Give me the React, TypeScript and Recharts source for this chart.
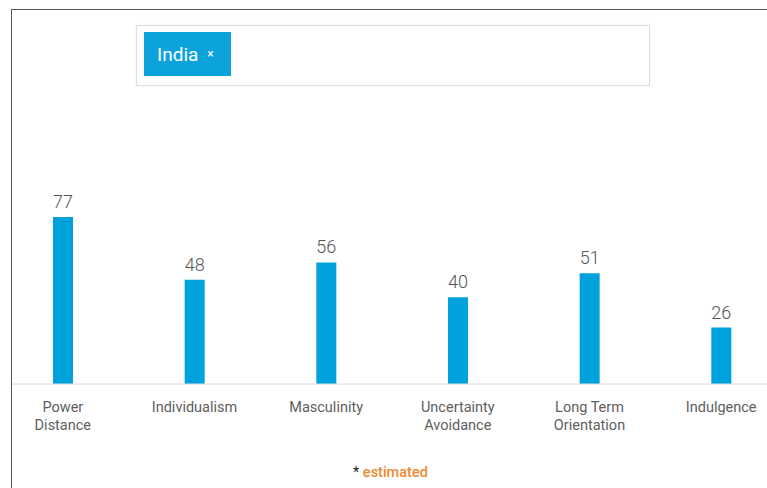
import React from "react";
import { BarChart, Bar, XAxis, YAxis, LabelList } from "recharts";

const categories = [
  "Power Distance",
  "Individualism",
  "Masculinity",
  "Uncertainty Avoidance",
  "Long Term Orientation",
  "Indulgence",
];
const tickLines = [
  ["Power", "Distance"],
  ["Individualism"],
  ["Masculinity"],
  ["Uncertainty", "Avoidance"],
  ["Long Term", "Orientation"],
  ["Indulgence"],
];
const scores = [77, 48, 56, 40, 51, 26];
const countryTag = "India";
const noteStar = "*";
const noteText = "estimated";

const data = categories.map((name, i) => ({ name, score: scores[i] }));

const FONT = "Roboto, 'Noto Sans', sans-serif";

const Tick = (props: any) => {
  const { x, y, index } = props;
  const lines = tickLines[index] || [];
  return (
    <text x={x} y={y} textAnchor="middle" fill="#5e5e5e" fontSize={14.5} fontFamily={FONT}>
      {lines.map((l, i) => (
        <tspan key={i} x={x} dy={i === 0 ? 20 : 18}>
          {l}
        </tspan>
      ))}
    </text>
  );
};

export default function App() {
  return (
    <div
      style={{
        position: "absolute",
        left: 0,
        top: 0,
        width: 767,
        height: 488,
        overflow: "hidden",
        background: "#fff",
        fontFamily: FONT,
      }}
    >
      <div
        style={{
          position: "absolute",
          left: 11,
          top: 9,
          width: 760,
          height: 490,
          borderTop: "1px solid #555",
          borderLeft: "1px solid #555",
          overflow: "hidden",
        }}
      >
        <div style={{ position: "absolute", left: -15, top: -10 }}>
          <BarChart
            width={790}
            height={488}
            data={data}
            margin={{ top: 167, right: 0, bottom: 44, left: 0 }}
          >
            <XAxis
              dataKey="name"
              interval={0}
              tickLine={false}
              axisLine={{ stroke: "#dcdcdc" }}
              tick={<Tick />}
              height={60}
            />
            <YAxis hide domain={[0, 100]} />
            <Bar dataKey="score" fill="#00a2dd" barSize={20} isAnimationActive={false}>
              <LabelList
                dataKey="score"
                position="top"
                offset={9}
                fill="#555"
                fontSize={18}
                fontWeight={300}
                fontFamily={FONT}
              />
            </Bar>
          </BarChart>
        </div>
        <div
          style={{
            position: "absolute",
            left: 124,
            top: 15,
            width: 512,
            height: 59,
            border: "1px solid #dedede",
            boxShadow: "0 0 3px rgba(0,0,0,0.06)",
            background: "#fff",
          }}
        >
          <div
            style={{
              position: "absolute",
              left: 7,
              top: 6,
              height: 44,
              width: 87,
              background: "#0ca3dc",
              color: "#fff",
              display: "flex",
              alignItems: "center",
              boxSizing: "border-box",
              paddingLeft: 13,
            }}
          >
            <span style={{ fontSize: 19 }}>{countryTag}</span>
            <span style={{ fontSize: 12, marginLeft: 9 }}>×</span>
          </div>
        </div>
        <div
          style={{
            position: "absolute",
            left: 341,
            top: 454,
            fontSize: 14.5,
            whiteSpace: "nowrap",
          }}
        >
          <span style={{ color: "#222" }}>{noteStar}</span>{" "}
          <span style={{ color: "#ef8a30", fontWeight: 500 }}>{noteText}</span>
        </div>
      </div>
    </div>
  );
}
